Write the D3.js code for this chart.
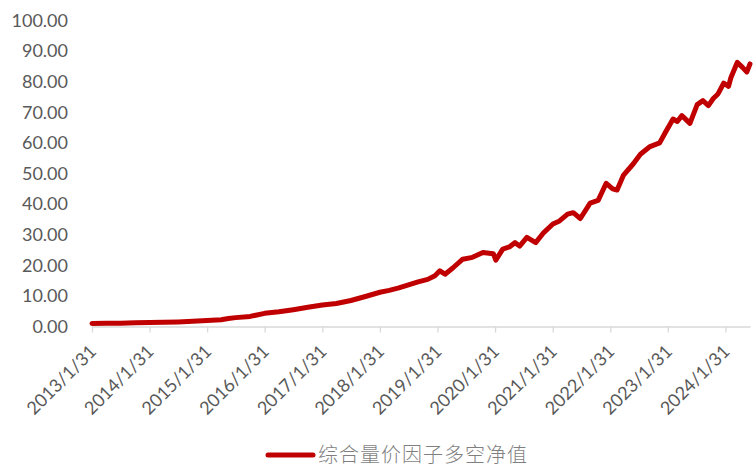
<!DOCTYPE html>
<html>
<head>
<meta charset="utf-8">
<script src="https://cdn.jsdelivr.net/npm/d3@7"></script>
<style>
  body { margin: 0; background: #fff; }
  .axis text { font-family: Lato, "Liberation Sans", sans-serif; font-size: 18px; fill: #595959; }
</style>
</head>
<body>
<div id="chart"></div>
<script>
var dates = [
  "2013-01-31","2013-04-30","2013-07-31","2013-10-31","2014-01-31","2014-04-30","2014-07-31","2014-10-31",
  "2015-01-31","2015-04-30","2015-06-15","2015-07-31","2015-10-31","2016-01-31","2016-04-30","2016-07-31",
  "2016-10-31","2017-01-31","2017-04-30","2017-07-31","2017-10-31","2018-01-31","2018-03-31","2018-05-31",
  "2018-07-31","2018-09-30","2018-11-30","2019-01-15","2019-02-15","2019-03-20","2019-05-10","2019-07-10",
  "2019-09-10","2019-11-15","2020-01-20","2020-02-05","2020-03-20","2020-05-01","2020-06-05","2020-07-05",
  "2020-08-20","2020-10-15","2020-12-05","2021-02-01","2021-03-15","2021-05-05","2021-06-10","2021-07-25",
  "2021-09-25","2021-11-15","2022-01-05","2022-02-15","2022-03-15","2022-04-25","2022-06-25","2022-08-10",
  "2022-10-10","2022-12-10","2023-01-15","2023-03-05","2023-04-01","2023-04-30","2023-06-20","2023-08-05",
  "2023-09-10","2023-10-15","2023-11-15","2023-12-15","2024-01-20","2024-02-20","2024-03-05","2024-04-15",
  "2024-05-20","2024-06-15","2024-07-05"
];
var values = [
  1.0, 1.05, 1.1, 1.2, 1.3, 1.4, 1.5, 1.7,
  2.0, 2.2, 2.6, 2.9, 3.3, 4.3, 4.8, 5.5,
  6.3, 7.0, 7.5, 8.5, 9.8, 11.2, 11.8, 12.6,
  13.6, 14.6, 15.4, 16.6, 18.2, 17.1, 19.2, 22.0,
  22.6, 24.2, 23.8, 21.7, 25.3, 26.0, 27.4, 26.3,
  29.1, 27.4, 30.7, 33.5, 34.5, 36.7, 37.2, 35.3,
  40.3, 41.2, 46.8, 45.0, 44.6, 49.5, 53.1, 56.3,
  58.8, 60.0, 63.4, 67.8, 67.0, 68.9, 66.4, 72.5,
  73.8, 72.2, 74.5, 76.0, 79.5, 78.5, 81.2, 86.3,
  84.6, 83.2, 85.8
];
var yTicks = [0, 10, 20, 30, 40, 50, 60, 70, 80, 90, 100];
var xTickDates = ["2013-01-31","2014-01-31","2015-01-31","2016-01-31","2017-01-31","2018-01-31",
  "2019-01-31","2020-01-31","2021-01-31","2022-01-31","2023-01-31","2024-01-31"];
var seriesName = "综合量价因子多空净值";

var parseDate = d3.timeParse("%Y-%m-%d");
var data = dates.map(function (d, i) { return { date: parseDate(d), value: values[i] }; });

var width = 756, height = 471,
    margin = { top: 20, right: 6, bottom: 145, left: 92 };

var svg = d3.select("#chart").append("svg")
    .attr("width", width)
    .attr("height", height);

var x = d3.scaleTime()
    .domain([parseDate("2013-01-31"), parseDate("2024-07-05")])
    .range([margin.left, width - margin.right]);
var y = d3.scaleLinear()
    .domain([0, 100])
    .range([height - margin.bottom + 0.5, margin.top + 0.5]);

// y axis: labels only
var yAxis = svg.append("g").attr("class", "axis")
    .attr("transform", "translate(68,0)")
    .call(d3.axisLeft(y).tickValues(yTicks).tickSize(0).tickPadding(0).tickFormat(d3.format(".2f")));
yAxis.select(".domain").remove();

// x axis
var xAxis = svg.append("g").attr("class", "axis")
    .attr("transform", "translate(0," + y(0) + ")")
    .call(d3.axisBottom(x).tickValues(xTickDates.map(parseDate)).tickSize(6).tickSizeOuter(0)
      .tickFormat(d3.timeFormat("%Y/%-m/%-d")));
xAxis.select(".domain").attr("stroke", "#d9d9d9").attr("stroke-width", 1.3);
xAxis.selectAll(".tick line").attr("stroke", "#d9d9d9").attr("stroke-width", 1.3);
xAxis.selectAll(".tick text")
    .attr("text-anchor", "end")
    .attr("x", -15)
    .attr("y", 22)
    .attr("dx", 0)
    .attr("dy", 0)
    .attr("transform", "rotate(-45)");

var line = d3.line()
    .x(function (d) { return x(d.date); })
    .y(function (d) { return y(d.value); });

svg.append("path")
    .datum(data)
    .attr("fill", "none")
    .attr("stroke", "#c00000")
    .attr("stroke-width", 5)
    .attr("stroke-linejoin", "round")
    .attr("stroke-linecap", "round")
    .attr("d", line);

// legend
var legend = svg.append("g").attr("transform", "translate(268,455)");
legend.append("line")
    .attr("x1", 0).attr("x2", 45)
    .attr("stroke", "#c00000").attr("stroke-width", 5).attr("stroke-linecap", "round");
legend.append("text")
    .attr("x", 50).attr("y", 7)
    .attr("font-family", "'Noto Sans CJK SC', sans-serif")
    .attr("font-size", 20)
    .attr("font-weight", 300)
    .attr("letter-spacing", 1)
    .attr("fill", "#7f7f7f")
    .text(seriesName);
</script>
</body>
</html>
